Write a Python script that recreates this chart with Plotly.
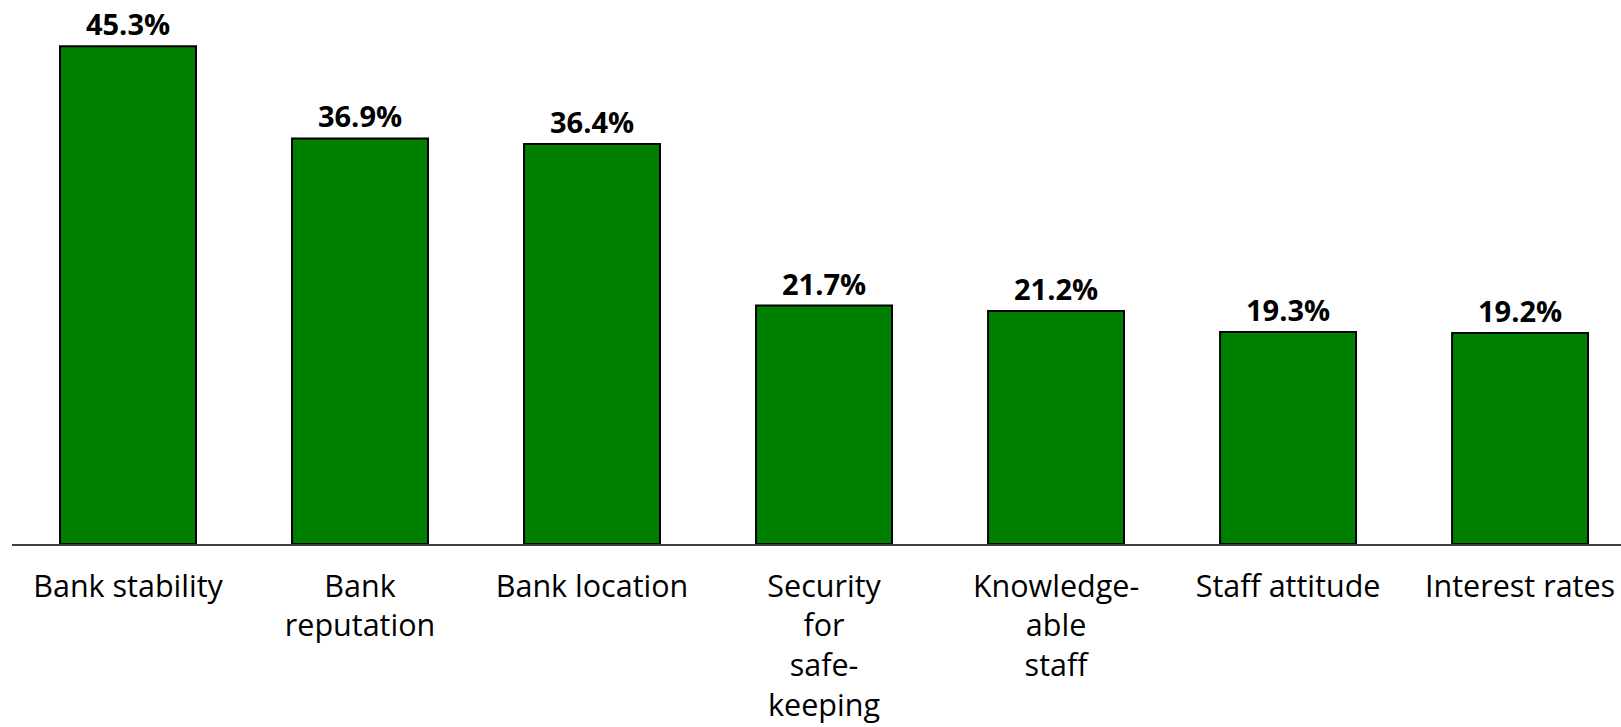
import plotly.graph_objects as go

# Survey: reasons for choosing a bank (share of respondents, %)
categories = [
    "Bank stability",
    "Bank<br>reputation",
    "Bank location",
    "Security<br>for<br>safe-<br>keeping",
    "Knowledge-<br>able<br>staff",
    "Staff attitude",
    "Interest rates",
]
shares = [45.3, 36.9, 36.4, 21.7, 21.2, 19.3, 19.2]

BAR_GREEN = "#008000"
FONT = "Open Sans"

fig = go.Figure(
    go.Bar(
        x=categories,
        y=shares,
        marker=dict(color=BAR_GREEN, line=dict(color="black", width=2)),
        texttemplate="%{y:.1f}%",
        textposition="outside",
        constraintext="none",
        cliponaxis=False,
        textfont=dict(family=FONT, size=29, color="black", weight="bold"),
    )
)

fig.update_layout(
    width=1621,
    height=727,
    margin=dict(l=12, r=0, t=0, b=183),
    paper_bgcolor="white",
    plot_bgcolor="white",
    bargap=0.414,
    showlegend=False,
    font=dict(family=FONT, color="black"),
)

fig.update_xaxes(
    range=[-0.5, 6.435],
    showline=True,
    linecolor="#404040",
    linewidth=2,
    showgrid=False,
    zeroline=False,
    ticks="",
    ticklabelstandoff=14,
    tickfont=dict(family=FONT, size=30.5, color="black"),
)
fig.update_yaxes(
    range=[0, 49.5],
    visible=False,
)

fig.write_html("out.html")
